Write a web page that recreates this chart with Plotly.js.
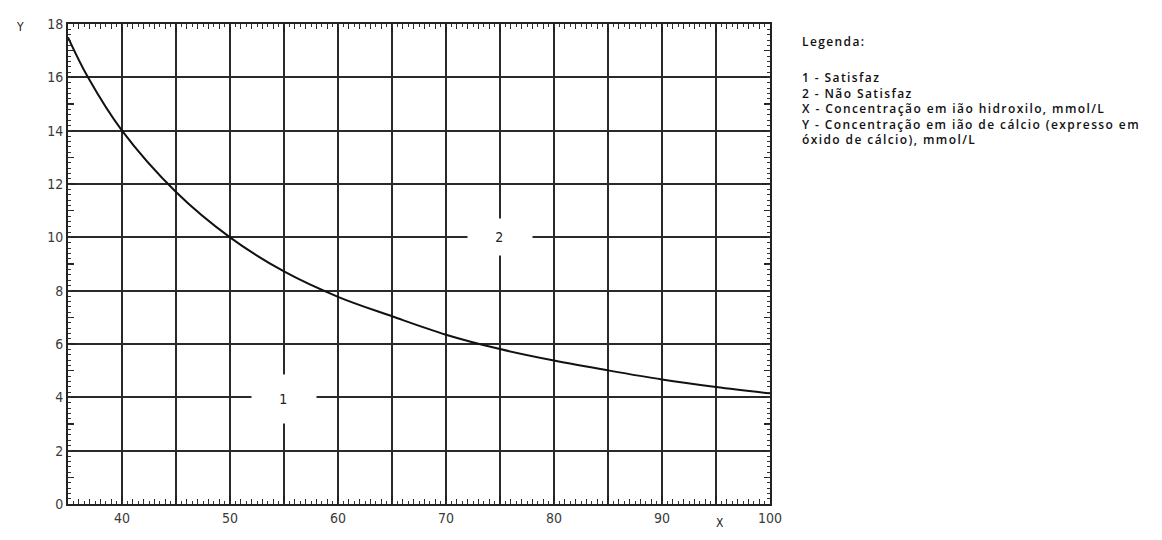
<!DOCTYPE html>
<html>
<head>
<meta charset="utf-8">
<script src="https://cdn.plot.ly/plotly-3.0.1.min.js"></script>
<style>
html,body{margin:0;padding:0;background:#fff;}
#chart{width:1162px;height:540px;}
.annotation-text{letter-spacing:1.4px;}
</style>
</head>
<body>
<div id="chart"></div>
<script>
// Curve
const hydroxyl = [35, 36.85, 40, 45, 50, 55, 60, 65, 70, 75, 80, 85, 90, 95, 100];
const calcium  = [17.5, 16, 14, 11.7, 10, 8.72, 7.77, 7.04, 6.35, 5.81, 5.38, 5.01, 4.67, 4.39, 4.15];

const xTickVals = [35, 40, 45, 50, 55, 60, 65, 70, 75, 80, 85, 90, 95, 100];
const xTickText = ['', '40', '', '50', '', '60', '', '70', '', '80', '', '90', '', '100'];
const yTickVals = [0, 2, 4, 6, 8, 10, 12, 14, 16, 18];

const regionLabels = ['1', '2'];
const regionX = [55, 75];
const regionY = [4, 10];

const legendTitle = 'Legenda:';
const legendLines = [
  '1 - Satisfaz',
  '2 - Não Satisfaz',
  'X - Concentração em ião hidroxilo, mmol/L',
  'Y - Concentração em ião de cálcio (expresso em',
  'óxido de cálcio), mmol/L'
];

const gridColor = '#2a2a2a';
const tickFont = {family: 'DejaVu Sans Condensed, DejaVu Sans', size: 14, color: '#3a3a3a'};
const legendFont = {family: 'Open Sans', size: 12, color: '#111', weight: 600};

const traces = [
  {x: hydroxyl, y: calcium, mode: 'lines', line: {color: '#111', width: 2, shape: 'spline', smoothing: 1}, hoverinfo: 'skip', showlegend: false},
  {x: [35], y: [0], xaxis: 'x2', yaxis: 'y2', mode: 'markers', marker: {opacity: 0}, hoverinfo: 'skip', showlegend: false}
];

const annotations = regionLabels.map((t, i) => ({
  x: regionX[i], y: regionY[i], xref: 'x', yref: 'y', text: t, showarrow: false,
  font: {family: 'DejaVu Sans Condensed, DejaVu Sans', size: 14, color: '#222'},
  bgcolor: '#ffffff', width: 62, height: i === 0 ? 46 : 34, yshift: i === 0 ? -2 : 0
}));

annotations.push({
  xref: 'paper', yref: 'paper', x: 1.0427, y: 0.9625, xanchor: 'left', yanchor: 'middle', align: 'left',
  text: legendTitle, showarrow: false, font: legendFont
});
annotations.push({
  xref: 'paper', yref: 'paper', x: 1.0427, y: 0.8245, xanchor: 'left', yanchor: 'middle', align: 'left',
  text: legendLines.join('<br>'), showarrow: false, font: legendFont
});
annotations.push({xref: 'paper', yref: 'paper', x: -0.077, y: 1.0125, text: 'Y', showarrow: false,
  font: {family: 'DejaVu Sans Condensed', size: 12, color: '#222'}});
annotations.push({xref: 'paper', yref: 'paper', x: 0.939, y: -0.058, text: 'X', showarrow: false,
  font: {family: 'DejaVu Sans Condensed', size: 12, color: '#222'}});

const layout = {
  width: 1162, height: 540,
  margin: {l: 68, r: 392, t: 24, b: 36},
  paper_bgcolor: '#fff', plot_bgcolor: '#fff',
  showlegend: false,
  xaxis: {
    range: [35, 100], tickmode: 'array', tickvals: xTickVals, ticktext: xTickText,
    showgrid: true, gridcolor: gridColor, gridwidth: 2,
    ticks: 'inside', ticklen: 8, tickwidth: 1.5, tickcolor: '#222', mirror: 'ticks',
    showline: true, linecolor: '#222', linewidth: 2,
    minor: {dtick: 1, tick0: 35, ticks: 'inside', ticklen: 5, tickcolor: '#222', tickwidth: 1.2, showgrid: false},
    tickfont: tickFont, zeroline: false, fixedrange: true
  },
  yaxis: {
    range: [0, 18], tickmode: 'array', tickvals: yTickVals,
    showgrid: true, gridcolor: gridColor, gridwidth: 2,
    ticks: 'inside', ticklen: 8, tickwidth: 1.5, tickcolor: '#222', mirror: 'ticks',
    showline: true, linecolor: '#222', linewidth: 2,
    minor: {dtick: 1, tick0: 0, ticks: 'inside', ticklen: 6, tickcolor: '#222', tickwidth: 1.2, showgrid: false},
    tickfont: tickFont, zeroline: false, fixedrange: true
  },
  xaxis2: {
    overlaying: 'x', matches: 'x', range: [35, 100], tick0: 35, dtick: 0.5,
    ticks: 'inside', ticklen: 3, tickwidth: 1, tickcolor: '#333', mirror: 'ticks',
    showticklabels: false, showgrid: false, zeroline: false, showline: false, fixedrange: true
  },
  yaxis2: {
    overlaying: 'y', matches: 'y', range: [0, 18], tick0: 0, dtick: 0.2,
    ticks: 'inside', ticklen: 3, tickwidth: 1, tickcolor: '#333', mirror: 'ticks',
    showticklabels: false, showgrid: false, zeroline: false, showline: false, fixedrange: true
  },
  annotations: annotations
};

Plotly.newPlot('chart', traces, layout, {staticPlot: true, displayModeBar: false});
</script>
</body>
</html>
